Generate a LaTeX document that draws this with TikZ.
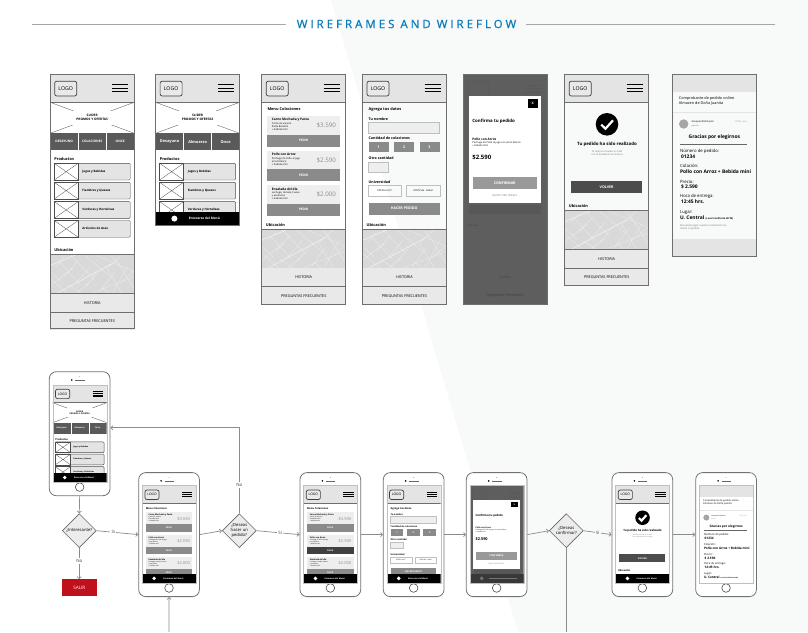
\documentclass[tikz,border=0pt]{standalone}
\usepackage{fontspec}
\usetikzlibrary{arrows.meta,shapes.geometric,calc}
\setmainfont{Open Sans}
\newfontfamily\wftitlefont[LetterSpace=26,FakeBold=1]{Open Sans}
\definecolor{wfbg}{HTML}{F8FAF9}
\definecolor{wfhead}{HTML}{E4E4E4}
\definecolor{wfedge}{HTML}{6E6E6E}
\definecolor{wftab}{HTML}{5A5A5A}
\definecolor{wffoot}{HTML}{E9E9E9}
\definecolor{wfcard}{HTML}{EEEEEE}
\definecolor{wfbtn}{HTML}{8A8A8A}
\definecolor{wfdark}{HTML}{5E5E5E}
\definecolor{wfblue}{HTML}{0B7DBB}
\definecolor{wfred}{HTML}{C0101C}
\definecolor{wfflow}{HTML}{8C8C8C}
\newif\ifwffull
\wffulltrue
\tikzset{
  x=1pt,y=-1pt,
  tx/.style={anchor=west,inner sep=0pt,align=left,text=#1},
  tx/.default=black,
  tc/.style={inner sep=0pt,align=center,text=#1},
  tc/.default=black,
  f2/.style={font=\fontsize{2.5}{3.1}\selectfont},
  f3/.style={font=\fontsize{3.8}{4.6}\selectfont},
  f3b/.style={font=\fontsize{3.2}{3.9}\selectfont\bfseries},
  f3r/.style={font=\fontsize{3}{3.7}\selectfont\bfseries},
  f3c/.style={font=\fontsize{3.6}{4.3}\selectfont\bfseries},
  f4/.style={font=\fontsize{4.3}{5.2}\selectfont},
  f4b/.style={font=\fontsize{3.9}{4.6}\selectfont\bfseries},
  f4c/.style={font=\fontsize{4.4}{5.2}\selectfont\bfseries},
  f5b/.style={font=\fontsize{4.9}{5.8}\selectfont\bfseries},
  wfframe/.style={draw=wfedge,line width=.8pt},
  wfline/.style={draw=wfedge,line width=.6pt},
  wfbox/.style={draw=black!70,line width=.4pt},
  logobox/.style={draw=black!75,line width=.7pt,rounded corners=2pt,minimum width=22pt,minimum height=14.7pt,inner sep=0pt,font=\fontsize{5.2}{6}\selectfont},
  flow/.style={draw=wfflow,line width=.7pt,-{Straight Barb[length=2pt,width=4pt]}},
  flowline/.style={draw=wfflow,line width=.7pt},
  lab/.style={fill=#1,inner sep=1.2pt,text=black!75,font=\fontsize{4.4}{5}\selectfont},
  lab/.default=white,
  phonebody/.style={draw=black!55,fill=white,line width=.8pt,rounded corners=7pt,minimum width=60.7pt,minimum height=124pt,inner sep=0pt},
  homebtn/.style={circle,draw=black!70,fill=white,line width=.6pt,minimum size=8.6pt,inner sep=0pt},
  decide/.style={diamond,draw=black!60,fill=wfhead!70,line width=.6pt,minimum width=34pt,minimum height=34pt,inner sep=0pt,align=center,font=\fontsize{4.2}{5}\selectfont},
}
% header bar with logo and menu icon
\newcommand\wfHdr{%
  \fill[wfhead] (0,0) rectangle (84,28);
  \draw[wfline] (0,28) -- (84,28);
  \node[logobox,fill=white!20!wfhead] (logo) at (15.5,14.3) {LOGO};
  \foreach \yy in {10.5,14,17.5}{\draw[line width=1.15pt,black] (62,\yy) -- (78,\yy);}
}
% street map
\newcommand\wfMap[1]{%
  \begin{scope}[shift={(0,#1)}]
    \begin{scope}
      \clip (0,0) rectangle (84,39);
      \fill[black!15] (0,0) rectangle (84,39);
      \draw[black!5,line width=.6pt] (6,39) -- (62,9) (0,11) -- (26,0);
      \draw[black!7,line width=.3pt] (44,0) -- (84,17) (8,6) -- (30,30) (20,0) -- (44,25) (34,0) -- (60,22)
        (56,12) -- (72,39) (66,6) -- (84,34) (0,24) -- (18,39) (40,39) -- (84,22)
        (72,0) -- (58,13) (0,31) -- (22,14) (26,39) -- (40,27) (77,12) -- (62,39) (52,33) -- (60,39)
        (14,3) -- (6,12) (28,6) -- (14,22) (40,12) -- (26,28) (48,16) -- (36,32) (64,18) -- (50,37)
        (0,17) -- (12,28) (70,28) -- (84,16) (18,30) -- (32,39) (60,0) -- (68,9);
    \end{scope}
    \draw[wfline] (0,0) -- (84,0) (0,39) -- (84,39);
  \end{scope}
}
% map, history and FAQ blocks, from the map's top edge
\newcommand\wfFoot[1]{%
  \ifwffull
  \wfMap{#1}
  \begin{scope}[shift={(0,#1)}]
    \fill[wffoot] (0,39) rectangle (84,75.7);
    \draw[wfline] (0,57.4) -- (84,57.4);
    \node[tc,f3] (hist) at (42,48.2) {HISTORIA};
    \node[tc,f3] (faq) at (42,66.5) {PREGUNTAS FRECUENTES};
  \end{scope}
  \fi
}
\newcommand\wfBtn[7]{%
  \fill[#6] (#2,#3) rectangle (#4,#5);
  \node[tc=white,f3c] (#1) at ($(#2,#3)!.5!(#4,#5)$) {#7};
}
\newcommand\wfUbic[1]{\node[tx,f4b] (ubic) at (4,#1) {Ubicación};}
% black menu bar
\newcommand\wfBar{%
  \fill[black] (0,137.7) rectangle (84,151);
  \node[circle,fill=white,minimum size=6pt,inner sep=0pt] (bardot) at (18.8,144.3) {};
  \node[tc=white,f3b] (bartxt) at (48.8,144.3) {Enterarse del Menú};
}
\newcommand\wfRow[3]{%
  \draw[wfbox,fill=wfhead,rounded corners=1pt] (4,#2) rectangle +(76,16.7);
  \draw[wfbox,fill=white] (4,#2) rectangle +(24,16.7);
  \draw[black!70,line width=.3pt] (4,#2) -- +(24,16.7) (28,#2) -- +(-24,16.7);
  \node[tx,f3r] (#1) at (32,#2+8.3) {#3};
}
% home page: #1-#3 tab labels, #4 label style
\newcommand\wfHome[4]{%
  \wfHdr
  \draw[black!60,line width=.4pt] (0,28) -- (84,59) (84,28) -- (0,59);
  \node[tc,f3b,fill=white,minimum width=40pt,minimum height=14pt] (slider) at (42,43.5) {SLIDER\\PROMOS Y OFERTAS};
  \fill[wftab] (0,59) rectangle (84,76);
  \draw[white,line width=.3pt] (28,59) -- (28,76) (56,59) -- (56,76);
  \node[tc=white,#4] (tab1) at (14,67.5) {#1};
  \node[tc=white,#4] (tab2) at (42,67.5) {#2};
  \node[tc=white,#4] (tab3) at (70,67.5) {#3};
  \node[tx,f4b] (prod) at (4,84.7) {Productos};
  \wfRow{r1}{89}{Jugos y Bebidas}
  \wfRow{r2}{108}{Fiambres y Quesos}
  \wfRow{r3}{127.3}{Verduras y Hortalizas}
  \ifwffull
  \wfRow{r4}{146.2}{Artículos de Aseo}
  \wfUbic{175.7}
  \fi
  \wfFoot{180.3}
}
% order card
\newcommand\wfCard[6]{% name, y, title, description, price, button colour
  \fill[wfcard] (5.6,#2) rectangle (78,#2+18.5);
  \fill[#6] (5.6,#2+18.5) rectangle (78,#2+30.5);
  \node[tx,f3b] (#1t) at (10,#2+4) {#3};
  \node[tx,f2,anchor=north west] (#1d) at (10,#2+6.3) {#4};
  \node[anchor=east,inner sep=0pt,text=black!45,font=\fontsize{6.2}{7}\selectfont] (#1p) at (74.5,#2+9.7) {#5};
  \node[tc=white,f3b] (#1b) at (41.8,#2+24.5) {PEDIR};
}
\newcommand\wfMenu[1]{%
  \wfHdr
  \node[tx,f4b] (title) at (5.6,35) {Menu Colaciones};
  \wfCard{a}{41.7}{Carne Mechada y Pasta}{Carne de vacuno\\Pasta Bocatini\\+ bebida mini}{\$3.590}{wfbtn}
  \wfCard{b}{76.3}{Pollo con Arroz}{Pechuga de Pollo al jugo\\arroz blanco\\+ bebida mini}{\$2.590}{#1}
  \wfCard{c}{110.7}{Ensalada del día}{Lechuga, tomate, huevo\\y aceitunas\\+ bebida mini}{\$2.000}{wfbtn}
  \ifwffull\wfUbic{151}\fi
  \wfFoot{155}
}
\newcommand\wfForm{%
  \wfHdr
  \node[tx,f4b] (title) at (6,35.4) {Agrega tus datos};
  \node[tx,f3c] (lname) at (6,44.7) {Tu nombre};
  \draw[black!25,fill=wfcard,line width=.4pt] (5.7,47.7) rectangle (77,58.7);
  \node[tx,f3c] (lqty) at (6,63.4) {Cantidad de colaciones};
  \wfBtn{q1}{6}{67.4}{26}{77.7}{wfbtn}{1}
  \wfBtn{q2}{31.4}{67.4}{51.7}{77.7}{wfbtn}{2}
  \wfBtn{q3}{57}{67.4}{77}{77.7}{wfbtn}{3}
  \node[tx,f3c] (lother) at (6,83.7) {Otra cantidad};
  \draw[black!25,fill=wfcard,line width=.4pt] (5.7,87.4) rectangle (26,97.7);
  \node[tx,f3c] (luni) at (6,107.4) {Universidad};
  \draw[black!25,line width=.4pt] (5.7,110.7) rectangle (39,121.4) (43.7,110.7) rectangle (77.4,121.4);
  \node[tc,f2] (u1) at (22.3,116) {UCEN Lord C.};
  \node[tc,f2] (u2) at (60.5,116) {UCEN Sta. Isabel};
  \wfBtn{send}{6.4}{128.4}{77}{140.4}{wfbtn}{HACER PEDIDO}
  \ifwffull\wfUbic{151}\fi
  \wfFoot{155}
}
\newcommand\wfModal{%
  \fill[wfdark] (0,0) rectangle (84,\ifwffull 229.7\else 151\fi);
  \draw[black!65,rounded corners=2pt,line width=.5pt] (4.5,7) rectangle (26.5,21.7);
  \foreach \yy in {10.5,14,17.5}{\draw[line width=.5pt,black!65] (62,\yy) -- (78,\yy);}
  \fill[black!66] (6,131) rectangle (78,140);
  \ifwffull
  \node[tx=black!75,f2] (mu) at (4,151) {Ubicación};
  \node[tc=black!75,f2] (mh) at (42,203) {HISTORIA};
  \node[tc=black!75,f3] (mf) at (42,221) {Preguntas frecuentes};
  \fi
  \fill[white] (5.3,21.7) rectangle (78,129);
  \fill[black] (64.3,25) rectangle (74.7,34);
  \node[tc=white,f3b] (mx) at (69.5,29.5) {X};
  \node[tx,f4c] (mt) at (9,47.4) {Confirma tu pedido};
  \node[tx,f3b] (mp) at (9,65) {Pollo con Arroz};
  \node[tx,f2,anchor=north west] (md) at (9,67.3) {Pechuga de Pollo al jugo con arroz blanco\\+ bebida mini};
  \node[tx,font=\fontsize{6}{7}\selectfont\bfseries] (mc) at (9,82.7) {\$2.590};
  \wfBtn{mok}{9.3}{102.7}{73.7}{115}{black!40}{CONFIRMAR}
  \node[tc=black!55,f2] (mo) at (41.5,121.7) {HACER OTRO PEDIDO};
}
\newcommand\wfDone{%
  \wfHdr
  \node[circle,fill=black,minimum size=22.6pt,inner sep=0pt] (ok) at (42.3,50) {};
  \draw[white,line width=2.2pt] ($(ok)+(-5.8,0.3)$) -- ($(ok)+(-1.5,4.4)$) -- ($(ok)+(6,-4)$);
  \node[tc,f4c] (dt) at (42.3,69.7) {Tu pedido ha sido realizado};
  \node[tc=black!55,f2] (ds) at (42.3,78.7) {Te hemos enviado un mail\\con el detalle de la compra};
  \wfBtn{back}{6.3}{106.7}{77.6}{119}{black!70}{VOLVER}
  \wfUbic{132}
  \wfFoot{136.4}
}
\newcommand\wfReceipt{%
  \fill[wfhead] (0,0) rectangle (84,18);
  \node[tx,f3,anchor=north west] (rh) at (6.3,22.4) {Comprobante de pedido online\\Almacen de Doña Juanita};
  \fill[wfhead] (0,37.7) rectangle (84,39);
  \fill[black!35] (11.3,49.7) circle (4.7);
  \node[tx,f2] (ra) at (19,47.7) {dovquanfoalmacen};
  \node[tx=black!60,font=\fontsize{2}{2.4}\selectfont] (rb) at (19,51.7) {para mí};
  \node[tx=black!40,f2] (rc) at (62,47.7) {10:30, you};
  \node[tc,f5b] (rd) at (42,63.4) {Gracias por elegirnos};
  \draw[black!60,line width=.5pt] (7.7,69.7) -- (75,69.7);
  \node[tx,f4] (r1) at (7.5,77) {Número de pedido:};
  \node[tx,f5b] (r2) at (8.5,82) {01234};
  \node[tx,f4] (r3) at (7.5,92) {Colación:};
  \node[tx,f5b] (r4) at (7.5,97.7) {Pollo con Arroz + Bebida mini};
  \node[tx,f4] (r5) at (7.5,107.3) {Precio:};
  \node[tx,f5b] (r6) at (8.5,112.7) {\$ 2.590};
  \node[tx,f4] (r7) at (7.5,122.3) {Hora de entrega:};
  \node[tx,f5b] (r8) at (8.5,127.7) {12:45 hrs.};
  \node[tx,f4] (r9) at (7.5,137.7) {Lugar:};
  \node[tx,f5b] (r10) at (7.5,143.4) {U. Central {\fontsize{2.4}{2.8}\selectfont (Local Confitería Hit'M)}};
  \ifwffull
  \node[tx=black!55,f2,anchor=north west] (r11) at (7.5,150.2) {Recuerda pagar cuando el momento de\\recibir tu pedido};
  \fill[wfhead] (0,164.7) rectangle (84,181.7);
  \fi
}
% wireframe at top row: name, x, height, content
\newcommand\wfScreen[4]{%
  \begin{scope}[shift={(#2,74.3)},name prefix=#1-]
    #4
    \draw[wfframe] (0,0) rectangle (84,#3);
  \end{scope}
}
% phone drawing: name, x, y
\newcommand\wfPhone[3]{%
  \node[phonebody] (#1) at (#2+30.35,#3+62) {};
  \fill[black!70] (#2+30.35,#3+5) circle (.35);
  \fill[black] (#2+22.4,#3+8.3) circle (.9);
  \draw[black!60,line width=.8pt] (#2+26,#3+8.3) -- (#2+35.4,#3+8.3);
  \node[homebtn] (#1h) at (#2+30.35,#3+115.4) {};
}
% content clipped in phone: name, x, y, content
\newcommand\wfInPhone[4]{%
  \begin{scope}[shift={(#2+3.35,#3+13)},scale=.643,transform shape,name prefix=#1c-]
    \wffullfalse
    \begin{scope}
      \clip (0,0) rectangle (84,151);
      #4
    \end{scope}
    \draw[black!25,line width=.3pt] (0,0) rectangle (84,151);
  \end{scope}
}
\begin{document}
\begin{tikzpicture}
\useasboundingbox (0,0) rectangle (808,632);
\fill[white] (0,0) rectangle (808,632);
\fill[wfbg] (331,0) -- (518,632) -- (808,632) -- (808,0) -- cycle;
% heading
\node[inner sep=0pt,text=wfblue,font=\fontsize{11.5}{13}\wftitlefont] (head) at (406.5,24) {WIREFRAMES AND WIREFLOW};
\coordinate (hl) at (32,24);
\coordinate (hr) at (775,24);
\draw[black!35,line width=.5pt] (hl) -- ($(head.west)+(-11,0)$) ($(head.east)+(10,0)$) -- (hr);
% wireframes
\wfScreen{w1}{50.2}{254}{\wfHome{DESAYUNO}{COLACIONES}{ONCE}{f3b}}
\wfScreen{w2}{155.6}{151}{%
  \wffullfalse
  \begin{scope}\clip (0,0) rectangle (84,151);
  \wfHome{Desayuno}{Almuerzo}{Once}{f4b}
  \end{scope}
  \wfBar}
\wfScreen{w3}{261.7}{229.7}{\wfMenu{wfbtn}}
\wfScreen{w4}{362.5}{229.7}{\wfForm}
\wfScreen{w5}{463.2}{229.7}{\wfModal}
\wfScreen{w6}{564.7}{210.7}{\wfDone}
\wfScreen{w7}{672.4}{181.7}{\wfReceipt}
% phones
\wfPhone{p1}{49.3}{371.7}
\wfInPhone{p1}{49.3}{371.7}{\wfHome{Desayuno}{Almuerzo}{Once}{f3b}\wfBar}
\wfPhone{p2}{138.7}{472.6}
\wfInPhone{p2}{138.7}{472.6}{\wfMenu{wfbtn}\wfBar}
\wfPhone{p3}{300}{472.6}
\wfInPhone{p3}{300}{472.6}{\wfMenu{black!75}\wfBar}
\wfPhone{p4}{383.3}{472.6}
\wfInPhone{p4}{383.3}{472.6}{\wfForm\wfBar}
\wfPhone{p5}{466.3}{472.6}
\wfInPhone{p5}{466.3}{472.6}{\wfModal
  \fill[black!78] (0,137.7) rectangle (84,151);
  \fill[black!55] (18.8,144.3) circle (3);
  \draw[black!55,line width=.5pt] (30,144.3) -- (74,144.3);}
\wfPhone{p6}{612}{472.6}
\wfInPhone{p6}{612}{472.6}{\wfDone\wfBar}
\wfPhone{p7}{695.7}{472.6}
\wfInPhone{p7}{695.7}{472.6}{\wfReceipt}
% decisions and exit
\node[decide] (d1) at (79.3,530.7) {¿Interesante?};
\node[decide] (d2) at (239.3,530.7) {¿Deseas\\hacer un\\pedido?};
\node[decide] (d3) at (566.3,530.7) {¿Deseas\\confirmar?};
\node[fill=wfred,text=white,minimum width=35.3pt,minimum height=16.7pt,inner sep=0pt,font=\fontsize{4.6}{5.5}\selectfont] (salir) at (79.3,587.6) {SALIR};
% connectors
\coordinate (turn) at (239.3,427.7);
\coordinate (inbot) at (169,632);
\coordinate (outbot) at (566.3,632);
\draw[flow] (p1.south) -- (d1.north);
\draw[flow] (d1.south) -- node[lab,pos=.42] {No} (salir.north);
\draw[flow] (d1.east) -- node[lab,pos=.4] {Si} (p2.west);
\draw[flow] (p2.east) -- (d2.west);
\draw[flow] (d2.north) -- node[lab,pos=.33] {No} (turn) -- (p1.east |- turn);
\draw[flow] (d2.east) -- node[lab,pos=.55] {Si} (p3.west);
\draw[flow] (p3.east) -- (p4.west);
\draw[flow] (p4.east) -- (p5.west);
\draw[flow] (p5.east) -- (d3.west);
\draw[flow] (d3.east) -- node[lab=wfbg,pos=.5] {Si} (p6.west);
\draw[flow] (p6.east) -- (p7.west);
\draw[flow] (inbot) -- (p2.south);
\draw[flowline] (d3.south) -- (outbot);
\end{tikzpicture}
\end{document}
